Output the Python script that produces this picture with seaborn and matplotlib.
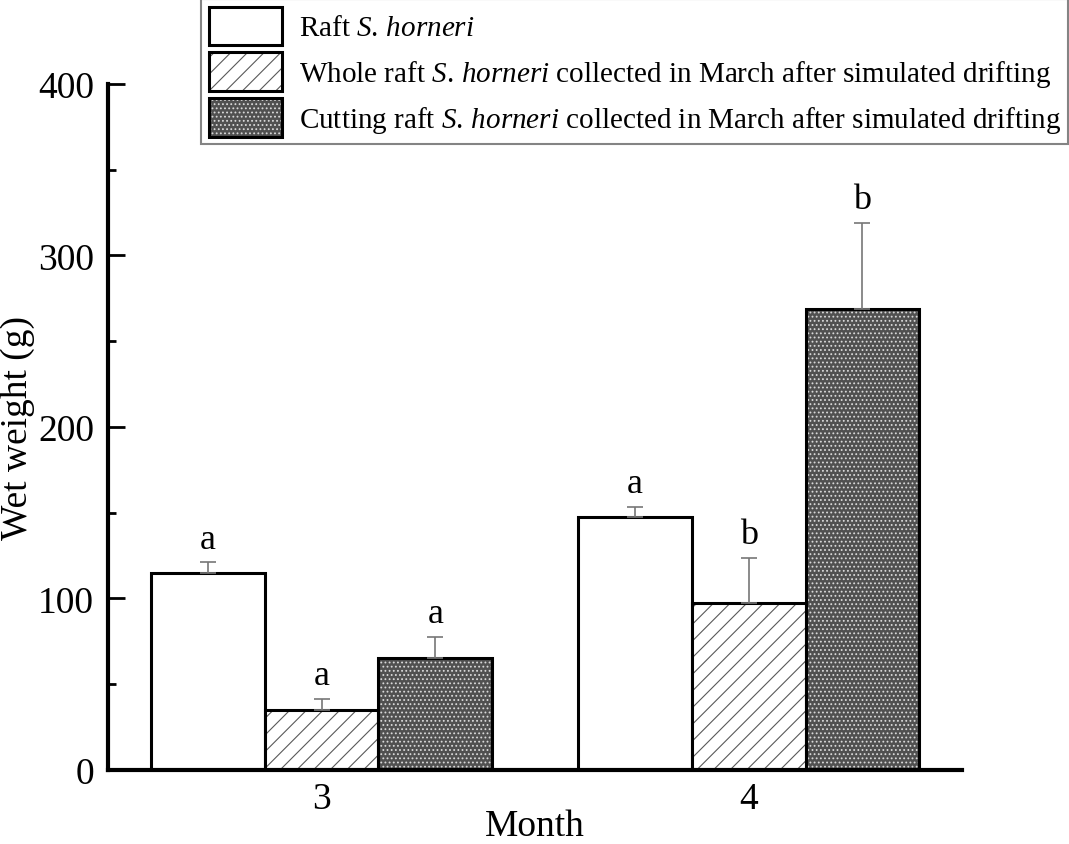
import matplotlib
matplotlib.use("Agg")
import matplotlib.pyplot as plt
import pandas as pd
import seaborn as sns

sns.set_theme(style="ticks")
plt.rcParams['font.family'] = ['Liberation Serif', 'DejaVu Serif']
plt.rcParams['mathtext.fontset'] = 'custom'
plt.rcParams['mathtext.rm'] = 'Liberation Serif'
plt.rcParams['mathtext.it'] = 'Liberation Serif:italic'
plt.rcParams['hatch.linewidth'] = 0.8
plt.rcParams['text.color'] = 'black'
plt.rcParams['axes.labelcolor'] = 'black'
plt.rcParams['xtick.color'] = 'black'
plt.rcParams['ytick.color'] = 'black'

months = ["3", "4"]
groups = [r"Raft $\mathit{S.\,horneri}$",
          r"Whole raft $\mathit{S.\,horneri}$ collected in March after simulated drifting",
          r"Cutting raft $\mathit{S.\,horneri}$ collected in March after simulated drifting"]
raft = [115, 147.5]
whole = [35, 97.5]
cutting = [65.5, 269]
raft_err = [6, 6]
whole_err = [6.5, 26]
cutting_err = [12, 50]
raft_sig = ["a", "a"]
whole_sig = ["a", "b"]
cutting_sig = ["a", "b"]

df = pd.DataFrame({
    "Month": months * 3,
    "Group": [groups[0]] * 2 + [groups[1]] * 2 + [groups[2]] * 2,
    "Weight": raft + whole + cutting,
})
errs = raft_err + whole_err + cutting_err
sigs = raft_sig + whole_sig + cutting_sig

fig = plt.figure(figsize=(10.69, 8.45), dpi=100)
ax = fig.add_axes([0.101, 0.0876, 0.799, 0.812])

sns.barplot(data=df, x="Month", y="Weight", hue="Group", hue_order=groups,
            order=months, width=0.8, errorbar=None, ax=ax, legend=False,
            palette=["white", "white", "#505050"], saturation=1)

styles = [("white", ""), ("white", "//"), ("#505050", "....")]
bars = ax.patches[:6]
for i, p in enumerate(bars):
    fc, h = styles[i // 2]
    p.set_facecolor(fc)
    p.set_hatch(h)
    p.set_edgecolor("black")
    p.set_linewidth(2.2)
    if h == "//":
        p._hatch_color = (0.35, 0.35, 0.35, 1)
    if h == "....":
        p._hatch_color = (0.85, 0.85, 0.85, 1)

for i, p in enumerate(bars):
    xc = p.get_x() + p.get_width() / 2
    top = p.get_height()
    ax.errorbar(xc, top, yerr=[[0], [errs[i]]], color="#777777", lw=1.2,
                capsize=5.5, capthick=1.2, fmt="none")
    ax.text(xc, top + errs[i] + 4, sigs[i], ha="center", va="bottom", fontsize=26)

ax.set_xlim(-0.5, 1.5)
ax.set_ylim(0, 400)
ax.set_yticks([0, 100, 200, 300, 400])
ax.set_yticks([50, 150, 250, 350], minor=True)
ax.tick_params(axis="y", which="major", direction="in", length=12, width=2, labelsize=27, pad=10)
ax.tick_params(axis="y", which="minor", direction="in", length=6, width=2)
ax.tick_params(axis="x", length=0, labelsize=27, pad=8)
ax.set_xlabel("Month", fontsize=27, labelpad=-5)
ax.set_ylabel("Wet weight (g)", fontsize=27, labelpad=2)
for s in ["left", "bottom"]:
    ax.spines[s].set_linewidth(3)
    ax.spines[s].set_color("black")
sns.despine(ax=ax)

handles = [bars[i * 2] for i in range(3)]
leg = fig.legend(handles, groups, loc="upper right", bbox_to_anchor=(0.9995, 0.9995),
                 fontsize=21, frameon=True, fancybox=False, handlelength=2.5,
                 handleheight=1.65, handletextpad=0.6, labelspacing=0.25,
                 borderpad=0.25, borderaxespad=0)
leg.get_frame().set_edgecolor("#666666")
leg.get_frame().set_linewidth(1.5)

fig.savefig("out.png", dpi=100)
